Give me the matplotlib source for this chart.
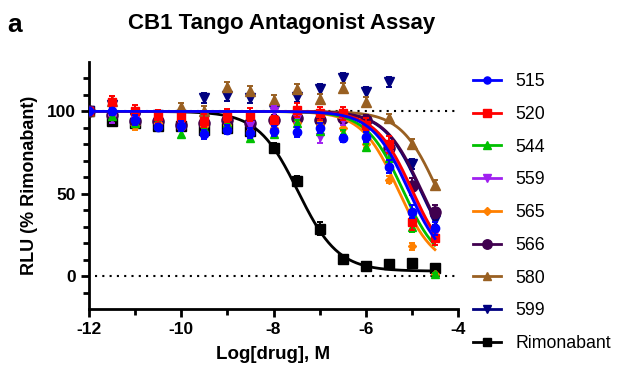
import numpy as np
import matplotlib.pyplot as plt
from matplotlib.lines import Line2D

plt.rcParams['font.family'] = ['Liberation Sans', 'DejaVu Sans']
plt.rcParams['axes.unicode_minus'] = False

# log concentration (M)
log_conc = [-12, -11.5, -11, -10.5, -10, -9.5, -9, -8.5, -8, -7.5, -7, -6.5, -6, -5.5, -5, -4.5]

names = ['515', '520', '544', '559', '565', '566', '580', '599', 'Rimonabant']
colors = ['#0000FF', '#FF0000', '#00C000', '#A020F0', '#FF8000', '#40004F', '#996022', '#000080', '#000000']
markers = ['o', 's', '^', 'v', 'D', 'o', '^', 'v', 's']
msizes = [6, 6, 6, 6, 4.5, 8, 7, 7, 7]

# mean RLU (% rimonabant) per compound
y_515 = [100, 100, 95, 90.6, 91, 86, 89, 87, 88, 87.6, 89.7, 83.6, 84.4, 66.5, 39, 29]
y_520 = [100, 105.5, 100, 97, 96.3, 94.3, 97.3, 98, 94.5, 100.8, 98.8, 98.8, 91.9, 80, 33, 23]
y_544 = [100, 97, 93, 92, 86, 90, 93, 84, 86, 92.7, 88, 86.6, 78.3, 72, 30, 1]
y_559 = [100, 96, 95, 94, 93, 92, 94, 92, 100.4, 95.7, 84.6, 94.7, 88, 74, 36, 26]
y_565 = [100, 98, 91, 93, 90, 91, 92, 88, 90, 93, 92, 90, 80, 58.5, 18, 1]
y_566 = [100, 98, 94, 94, 92, 93, 95, 93, 95, 96, 95, 96, 95, 78, 54.5, 39]
y_580 = [100, 106.5, 95, 96, 102.4, 100.4, 114.6, 112.6, 106.7, 113.8, 107.7, 114.2, 105.7, 95.7, 80, 55.5]
y_599 = [100, 104, 96, 98, 98, 108, 109.5, 108, 101, 108.8, 113.8, 120.3, 111.8, 117.9, 68, 34]
y_rimo = [100, 94, 93, 91, 91, 89, 90, 88, 78, 58, 28.7, 10.4, 6.3, 7.3, 7.7, 5]
all_y = [y_515, y_520, y_544, y_559, y_565, y_566, y_580, y_599, y_rimo]

# SEM
e_515 = [2, 2, 3, 2, 3, 3, 3, 3, 3, 3, 3, 2, 3, 4, 4, 4]
e_520 = [2, 4, 4, 4, 4, 4, 4, 4, 3, 4, 4, 4, 4, 5, 5, 4]
e_544 = [2, 2, 2, 2, 2, 2, 2, 2, 2, 2, 2, 2, 2, 3, 3, 1]
e_559 = [2, 3, 3, 3, 3, 3, 4, 3, 3, 3, 4, 3, 3, 3, 3, 3]
e_565 = [2, 2, 2, 2, 2, 2, 2, 2, 2, 2, 2, 2, 2, 2, 2, 1]
e_566 = [2, 3, 3, 3, 3, 3, 3, 3, 3, 3, 3, 3, 3, 4, 5, 4]
e_580 = [2, 3, 3, 3, 3, 3, 3, 3, 3, 3, 3, 3, 3, 3, 3, 3]
e_599 = [2, 3, 3, 3, 3, 3, 3, 3, 3, 3, 3, 3, 3, 3, 3, 3]
e_rimo = [2, 2, 2, 2, 2, 2, 2, 2, 3, 3, 4, 2, 2, 2, 2, 2]
all_e = [e_515, e_520, e_544, e_559, e_565, e_566, e_580, e_599, e_rimo]

# four-parameter fits: top, bottom, logIC50, hill
fit_top = [100, 100, 100, 100, 100, 100, 100, 100, 100]
fit_bottom = [5, 5, 5, 5, 5, 5, 5, 5, 3]
fit_logic50 = [-5.08, -5.0, -5.2, -5.05, -5.3, -4.8, -4.45, -4.82, -7.47]
fit_hill = [1.1, 1.1, 1.1, 1.1, 1.1, 1.1, 1.1, 1.1, 1.0]


def four_pl(x, top, bottom, logic50, hill):
    return bottom + (top - bottom) / (1 + 10 ** ((x - logic50) * hill))


fig = plt.figure(figsize=(6.2, 3.74), dpi=100)
ax = fig.add_axes([89 / 620, 65 / 374, 369 / 620, 247 / 374])

# reference lines
ax.plot([-11.87, -4], [100, 100], color='black', lw=1.5, ls=(0, (1, 2.5)), zorder=1)
ax.plot([-11.87, -4], [0, 0], color='black', lw=1.5, ls=(0, (1, 2.5)), zorder=1)

xs = np.linspace(-12, -4.5, 300)
handles = []
for i in reversed(range(len(names))):
    z = 2 + (len(names) - i)
    ax.errorbar(log_conc, all_y[i], yerr=all_e[i], fmt=markers[i], color=colors[i],
                ms=msizes[i], mec=colors[i], elinewidth=1.4, capsize=2.5, capthick=1.4,
                zorder=z)
    ax.plot(xs, four_pl(xs, fit_top[i], fit_bottom[i], fit_logic50[i], fit_hill[i]),
            color=colors[i], lw=2, zorder=z)

for i in range(len(names)):
    handles.append(Line2D([], [], color=colors[i], marker=markers[i], lw=2,
                          ms=msizes[i] * 0.85, label=names[i]))

ax.set_xlim(-12, -4)
ax.set_ylim(-20, 130)
ax.set_xticks([-12, -10, -8, -6, -4])
ax.set_xticks([-11, -9, -7, -5], minor=True)
ax.set_yticks([0, 50, 100])
ax.set_yticks([-10, 10, 20, 30, 40, 60, 70, 80, 90, 110, 120], minor=True)
for s in ['top', 'right']:
    ax.spines[s].set_visible(False)
for s in ['left', 'bottom']:
    ax.spines[s].set_linewidth(2)
ax.tick_params(which='major', length=6, width=2, labelsize=12.5)
ax.tick_params(which='minor', length=4.5, width=2)
for lab in ax.get_xticklabels() + ax.get_yticklabels():
    lab.set_fontweight('bold')

ax.set_xlabel('Log[drug], M', fontsize=13.5, fontweight='bold', labelpad=6)
ax.set_ylabel('RLU (% Rimonabant)', fontsize=13, fontweight='bold', labelpad=6)
fig.text(282 / 620, 1 - 23 / 374, 'CB1 Tango Antagonist Assay', fontsize=16,
         fontweight='bold', ha='center', va='center')
fig.text(0.012, 0.915, 'a', fontsize=19, fontweight='bold')

fig.legend(handles=handles, loc='upper left', bbox_to_anchor=(466 / 620, 1 - 66 / 374),
           frameon=False, fontsize=12.8, labelspacing=0.885, handlelength=1.55,
           handletextpad=0.85, borderaxespad=0)

fig.savefig('out.png', dpi=100)
